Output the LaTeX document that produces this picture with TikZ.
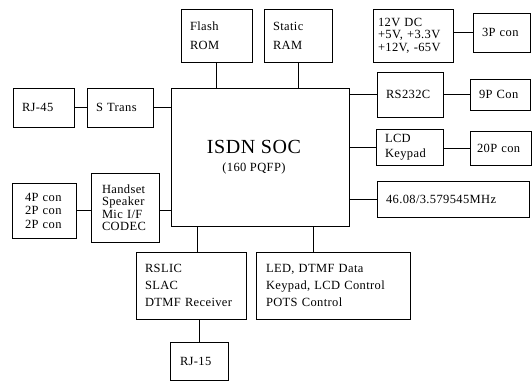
\documentclass[tikz,border=0pt]{standalone}
\usepackage{fontspec}
\setmainfont{Liberation Serif}[LetterSpace=3]
\begin{document}
\begin{tikzpicture}[x=1pt, y=-1pt, line cap=round,
  blk/.style={draw, line width=0.8pt, align=left, inner xsep=9pt, inner ysep=0pt},
  txt/.style={font=\fontsize{12.5}{#1}\selectfont},
  link/.style={line width=0.8pt}]

  \useasboundingbox (0,0) rectangle (532,381);

  % SoC in the middle
  \node[blk, align=center, inner xsep=0pt, minimum width=178pt, minimum height=138pt,
        font=\fontsize{20}{20}\selectfont] (soc) at (260,157)
       {ISDN SOC\hspace*{12pt}\\[-2pt]{\fontsize{12.5}{15}\selectfont (160 PQFP)\hspace*{12pt}}};

  % top row
  \node[blk, txt=19, text width=53pt, minimum height=53pt] (flash) at (216.5,35.5) {Flash\\ROM};
  \node[blk, txt=19, text width=50pt, minimum height=53pt] (sram)  at (298,35.5)   {Static\\RAM};
  \node[blk, txt=12.5, inner xsep=5pt, text width=70pt, minimum height=53pt] (pwr) at (413,35.5)
       {12V DC\\+5V, +3.3V\\+12V, -65V};
  \node[blk, txt=15, text width=39pt, minimum height=39pt] (con3) at (501.5,32.5) {3P con};

  % left side
  \node[blk, txt=15, text width=43pt, minimum height=39pt] (rj45)   at (43.5,107.5) {RJ-45};
  \node[blk, txt=15, text width=48pt, minimum height=39pt] (strans) at (120,107.5)  {S Trans};
  \node[blk, txt=13.5, inner xsep=13pt, text width=38pt, minimum height=55pt] (con4) at (44,210.5)
       {4P con\\2P con\\2P con};
  \node[blk, txt=12.5, inner xsep=11pt, text width=46pt, minimum height=69pt] (hs) at (125,207.5)
       {Handset\\Speaker\\Mic I/F\\CODEC};

  % right side
  \node[blk, txt=15, text width=48pt, minimum height=45pt] (rs)    at (410,94.5)  {RS232C};
  \node[blk, txt=15, text width=42pt, minimum height=31pt] (con9)  at (500,94.5)  {9P Con};
  \node[blk, txt=15, text width=49pt, minimum height=36pt] (lcd)   at (409.5,147) {LCD\\Keypad};
  \node[blk, txt=15, inner xsep=7pt, text width=47pt, minimum height=34pt] (con20) at (500.5,148) {20P con};
  \node[blk, txt=15, text width=134pt, minimum height=36pt] (osc)  at (453,199)   {46.08/3.579545MHz};

  % bottom
  \node[blk, txt=17, text width=92pt, minimum height=67pt] (slic) at (191,285.5)
       {RSLIC\\SLAC\\DTMF Receiver};
  \node[blk, txt=17, inner xsep=10pt, text width=134pt, minimum height=67pt] (led) at (333,285.5)
       {LED, DTMF Data\\Keypad, LCD Control\\POTS Control};
  \node[blk, txt=15, inner xsep=10pt, text width=38pt, minimum height=38pt] (rj15) at (199,361) {RJ-15};

  % connectors
  \draw[link] (rj45) -- (strans);
  \draw[link] (strans) -- (strans -| soc.west);
  \draw[link] (flash.south) -- (flash.south |- soc.north);
  \draw[link] (sram.south) -- (sram.south |- soc.north);
  \draw[link] (pwr.east |- con3.west) -- (con3.west);
  \draw[link] (soc.east |- rs.west) -- (rs.west);
  \draw[link] (rs) -- (con9);
  \draw[link] (soc.east |- lcd.west) -- (lcd.west);
  \draw[link] (lcd.east |- con20.west) -- (con20.west);
  \draw[link] (soc.east |- osc.west) -- (osc.west);
  \draw[link] (con4) -- (con4 -| hs.west);
  \draw[link] (hs.east |- con4) -- (con4 -| soc.west);
  \draw[link] ([xshift=6pt]slic.north) -- ([xshift=6pt]slic.north |- soc.south);
  \draw[link] ([xshift=-20pt]led.north) -- ([xshift=-20pt]led.north |- soc.south);
  \draw[link] (rj15.north) -- (rj15.north |- slic.south);

\end{tikzpicture}
\end{document}
